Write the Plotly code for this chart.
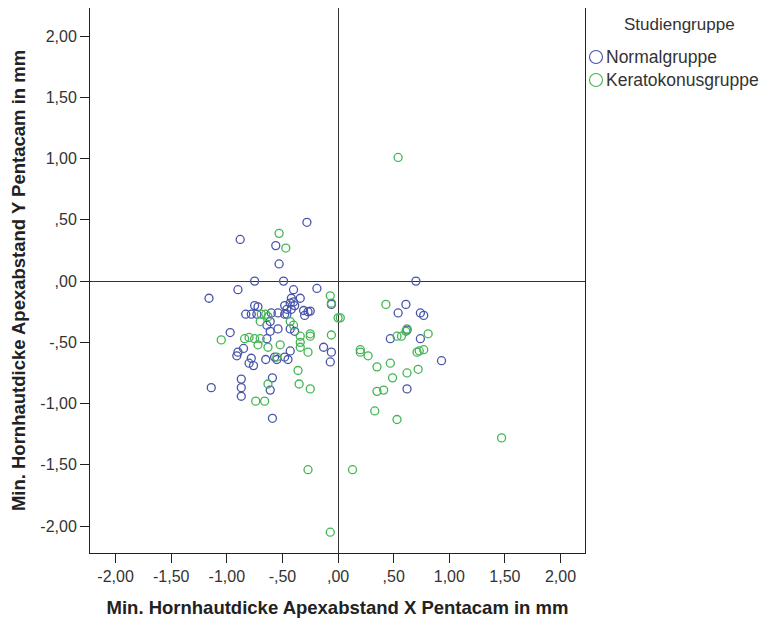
import plotly.graph_objects as go

# Normalgruppe (blue)
normal_x = [-0.28, -0.88, -0.56, -0.53, -0.75, -0.49, -0.90, -0.19, -0.40, -1.16,
            -0.42, -0.34, -0.40, -0.06, -0.75, -0.72, -0.48, -0.43, -0.39, -0.46,
            -0.42, -0.60, -0.54, -0.48, -0.31, -0.27, -0.30, -0.83, -0.78, -0.73,
            -0.61, -0.64, -0.54, -0.43, -0.39, -0.61, -0.97, -0.64, -0.85, -0.90,
            -0.91, -0.78, -0.80, -0.76, -0.65, -0.57, -0.55, -0.48, -0.45, -0.43,
            -0.13, -0.06, -0.07, -1.14, -0.87, -0.87, -0.87, -0.59, -0.61, -0.59,
            0.70, 0.61, 0.54, 0.74, 0.77, 0.47, 0.62, 0.74, 0.93, 0.62,
            -0.25, -0.46]
normal_y = [0.48, 0.34, 0.29, 0.14, 0.00, 0.00, -0.07, -0.06, -0.07, -0.14,
            -0.14, -0.14, -0.17, -0.19, -0.20, -0.21, -0.20, -0.18, -0.20, -0.23,
            -0.23, -0.26, -0.26, -0.27, -0.24, -0.25, -0.28, -0.27, -0.27, -0.27,
            -0.33, -0.36, -0.39, -0.39, -0.41, -0.41, -0.42, -0.47, -0.55, -0.58,
            -0.61, -0.63, -0.67, -0.69, -0.64, -0.62, -0.64, -0.62, -0.64, -0.57,
            -0.54, -0.58, -0.66, -0.87, -0.80, -0.87, -0.94, -0.79, -0.89, -1.12,
            0.00, -0.19, -0.26, -0.26, -0.28, -0.47, -0.40, -0.47, -0.65, -0.88,
            -0.245, -0.27]

# Keratokonusgruppe (green)
kerato_x = [-0.53, -0.47, -0.07, -0.06, 0.00, -0.63, -0.69, -0.65, -0.70, -1.05,
            -0.84, -0.80, -0.75, -0.70, -0.72, -0.43, -0.40, -0.34, -0.34, -0.34,
            -0.25, -0.25, -0.06, -0.27, -0.52, -0.63, -0.55, -0.36, -0.63, -0.74,
            -0.66, -0.35, -0.25, 0.43, 0.53, 0.57, 0.61, 0.62, 0.81, 0.20,
            0.20, 0.27, 0.71, 0.73, 0.77, 0.35, 0.47, 0.49, 0.62, 0.72,
            0.35, 0.41, 0.33, 0.53, 0.54, 1.47, -0.27, 0.13, -0.07, 0.02]
kerato_y = [0.39, 0.27, -0.12, -0.18, -0.30, -0.29, -0.27, -0.27, -0.33, -0.48,
            -0.47, -0.46, -0.47, -0.47, -0.52, -0.33, -0.36, -0.45, -0.50, -0.54,
            -0.43, -0.45, -0.44, -0.58, -0.52, -0.54, -0.62, -0.73, -0.84, -0.98,
            -0.98, -0.84, -0.88, -0.19, -0.45, -0.45, -0.41, -0.39, -0.43, -0.56,
            -0.58, -0.61, -0.58, -0.57, -0.56, -0.70, -0.67, -0.79, -0.75, -0.72,
            -0.90, -0.89, -1.06, -1.13, 1.01, -1.28, -1.54, -1.54, -2.05, -0.30]

tick_vals = [-2.0, -1.5, -1.0, -0.5, 0.0, 0.5, 1.0, 1.5, 2.0]
tick_text = ["-2,00", "-1,50", "-1,00", "-,50", ",00", ",50", "1,00", "1,50", "2,00"]

legend_title = "Studiengruppe"
group_names = ["Normalgruppe", "Keratokonusgruppe"]

BLUE = "#4855ab"
GREEN = "#42b553"
FONT = "Liberation Sans, Arial, sans-serif"

W, H = 771, 621
OFF = 8  # page body margin of the html page
ML, MT = 90 - OFF, 8 - OFF
PW, PH = 495, 545
MR, MB = W - ML - PW, H - MT - PH


def px_x(px):
    return (px - OFF - ML) / PW


def px_y(py):
    return (MT + PH - (py - OFF)) / PH


fig = go.Figure()
for name, xs, ys, col in [(group_names[0], normal_x, normal_y, BLUE),
                          (group_names[1], kerato_x, kerato_y, GREEN)]:
    fig.add_trace(go.Scatter(
        x=xs, y=ys, mode="markers", name=name, showlegend=False,
        marker=dict(symbol="circle-open", size=8, color=col, line=dict(width=1.3, color=col)),
    ))

axis_common = dict(
    tickmode="array", tickvals=tick_vals, ticktext=tick_text,
    showgrid=False, showline=True, linecolor="#222", linewidth=1, mirror=True,
    ticks="outside", ticklen=9, tickcolor="#222", tickwidth=1,
    zeroline=True, zerolinecolor="#333", zerolinewidth=1.3,
    tickfont=dict(family=FONT, size=16, color="#333"),
    automargin=False,
)

# legend (drawn as text + symbols next to the plot)
annotations = [dict(text=legend_title, xref="paper", yref="paper",
                    x=px_x(679), y=px_y(25), xanchor="center", yanchor="middle",
                    showarrow=False, font=dict(family=FONT, size=17, color="#333"))]
shapes = []
for i, (name, col) in enumerate(zip(group_names, [BLUE, GREEN])):
    ycen = 57 + 23 * i
    annotations.append(dict(text=name, xref="paper", yref="paper",
                            x=px_x(604), y=px_y(ycen), xanchor="left", yanchor="middle",
                            showarrow=False, font=dict(family=FONT, size=17.5, color="#333")))
    shapes.append(dict(type="circle", xref="paper", yref="paper",
                       xsizemode="pixel", ysizemode="pixel",
                       xanchor=px_x(596), yanchor=px_y(ycen),
                       x0=-6.5, x1=6.5, y0=-6.5, y1=6.5,
                       line=dict(color=col, width=1.1)))

fig.update_layout(
    width=W, height=H,
    margin=dict(l=ML, r=MR, t=MT, b=MB),
    paper_bgcolor="white", plot_bgcolor="white",
    font=dict(family=FONT, color="#222"),
    showlegend=False,
    xaxis=dict(range=[-2.23, 2.22],
               title=dict(text="<b>Min. Hornhautdicke Apexabstand X Pentacam in mm</b>",
                          font=dict(family=FONT, size=18.5, color="#222"), standoff=16),
               **axis_common),
    yaxis=dict(range=[-2.22, 2.23],
               title=dict(text="<b>Min. Hornhautdicke Apexabstand Y Pentacam in mm</b>",
                          font=dict(family=FONT, size=18.5, color="#222"), standoff=12),
               **axis_common),
    annotations=annotations,
    shapes=shapes,
)

fig.write_html("out.html")
